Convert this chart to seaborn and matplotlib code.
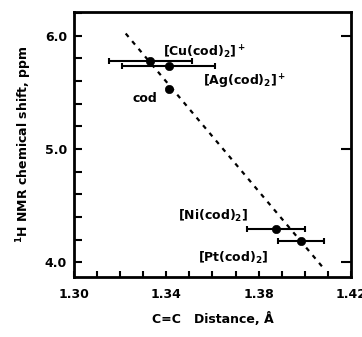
import matplotlib
matplotlib.use("Agg")
import matplotlib.pyplot as plt
import seaborn as sns
import pandas as pd
from matplotlib.ticker import MultipleLocator, FixedLocator

sns.set_style("ticks")
plt.rcParams['font.family'] = ['DejaVu Sans']
plt.rcParams['mathtext.default'] = 'regular'
for k in ["text.color", "axes.edgecolor", "axes.labelcolor", "xtick.color", "ytick.color"]:
    plt.rcParams[k] = "black"

# data
compounds = ["[Cu(cod)$_2$]$^+$", "[Ag(cod)$_2$]$^+$", "cod", "[Ni(cod)$_2$]", "[Pt(cod)$_2$]"]
distance = [1.333, 1.341, 1.341, 1.3876, 1.3985]
shift = [5.78, 5.73, 5.53, 4.29, 4.19]
dist_err = [0.018, 0.020, 0.0, 0.0125, 0.010]
fit_x = [1.3224, 1.408]
fit_y = [6.02, 3.95]
label_x = [1.3385, 1.356, 1.3255, 1.345, 1.3537]
label_y = [5.85, 5.59, 5.45, 4.41, 4.04]
xticks = [1.30, 1.34, 1.38, 1.42]
yticks = [4.0, 5.0, 6.0]

df = pd.DataFrame({"compound": compounds, "distance": distance, "shift": shift, "err": dist_err})
fit = pd.DataFrame({"x": fit_x, "y": fit_y})

fig = plt.figure(figsize=(3.62, 3.37), dpi=100)
ax = fig.add_axes([74/362, 1 - 277/337, (351-74)/362, (277-12)/337])

sns.lineplot(data=fit, x="x", y="y", ax=ax, color="black", linestyle=(0, (2, 2.5)), linewidth=1.6)
eb = df[df["err"] > 0]
ax.errorbar(eb["distance"], eb["shift"], xerr=eb["err"], fmt="none", ecolor="black",
            elinewidth=1.5, capsize=2.5, capthick=1.5)
sns.scatterplot(data=df, x="distance", y="shift", ax=ax, color="black", s=36, edgecolor="black", zorder=5)

for name, lx, ly in zip(compounds, label_x, label_y):
    ax.text(lx, ly, name, fontsize=9, va="center", ha="left", fontweight="bold")

ax.set_xlim(1.30, 1.42)
ax.set_ylim(3.87, 6.21)
ax.xaxis.set_major_locator(FixedLocator(xticks))
ax.xaxis.set_minor_locator(MultipleLocator(0.01))
ax.yaxis.set_major_locator(FixedLocator(yticks))
ax.yaxis.set_minor_locator(MultipleLocator(0.2))
ax.set_xticklabels(["1.30", "1.34", "1.38", "1.42"])
ax.set_yticklabels(["4.0", "5.0", "6.0"])
ax.tick_params(axis="x", which="both", direction="in", length=4, width=1.5, top=False,
               labelsize=9, pad=8)
ax.tick_params(axis="y", which="both", direction="in", length=6, width=1.5, right=False,
               labelsize=9, pad=5)
for lab in ax.get_xticklabels() + ax.get_yticklabels():
    lab.set_fontweight("bold")

# right side major ticks
ax2 = ax.secondary_yaxis("right")
ax2.yaxis.set_major_locator(FixedLocator(yticks))
ax2.tick_params(direction="in", length=7, width=1.5, labelright=False)
ax2.spines["right"].set_visible(False)

for s in ax.spines.values():
    s.set_linewidth(2)
    s.set_visible(True)

ax.set_xlabel("C=C   Distance, Å", fontsize=9, fontweight="bold", labelpad=8)
ax.set_ylabel("$^1$H NMR chemical shift, ppm", fontsize=9, fontweight="bold", labelpad=8)

fig.savefig("out.png", dpi=100)
